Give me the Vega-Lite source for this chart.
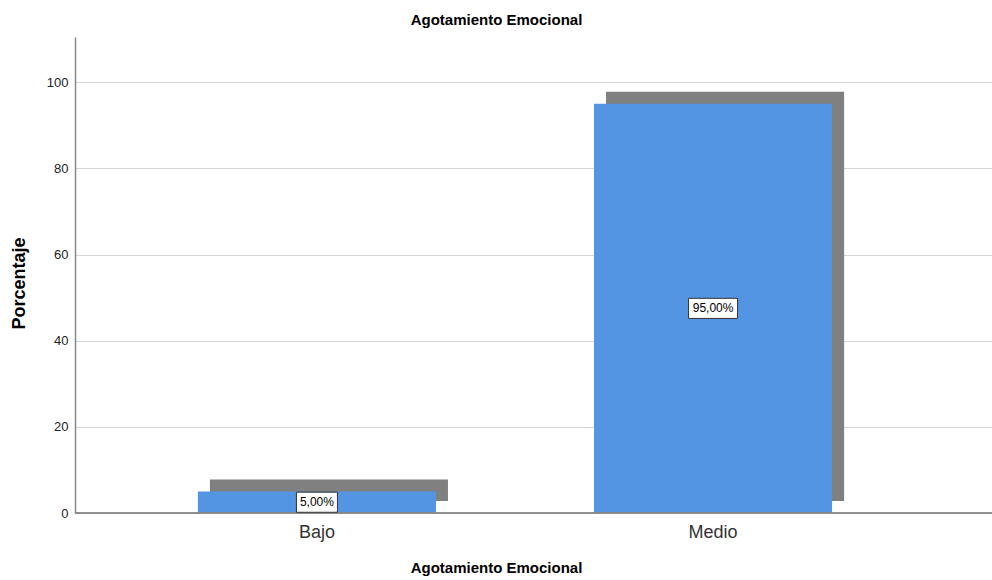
{
  "$schema": "https://vega.github.io/schema/vega-lite/v6.json",
  "width": 917,
  "height": 476,
  "autosize": {"type": "none"},
  "padding": {"left": 75, "top": 37, "right": 0, "bottom": 67},
  "config": {
    "font": "Liberation Sans",
    "view": {"stroke": null},
    "locale": {"number": {"decimal": ",", "thousands": ".", "grouping": [3], "currency": ["", "%"]}}
  },
  "title": {
    "text": "Agotamiento Emocional",
    "fontSize": 15,
    "fontWeight": "bold",
    "color": "#000000",
    "anchor": "middle",
    "dx": -37,
    "offset": -6,
    "baseline": "bottom"
  },
  "data": {"values": [
    {"nivel": "Bajo", "porcentaje": 5},
    {"nivel": "Medio", "porcentaje": 95}
  ]},
  "transform": [{"calculate": "datum.porcentaje / 2", "as": "centro"}],
  "layer": [
    {
      "mark": {"type": "bar", "color": "#808080", "xOffset": -6.5, "x2Offset": -6.5, "yOffset": -12, "y2Offset": -12},
      "encoding": {
        "x": {"field": "nivel", "type": "nominal", "sort": null,
          "scale": {"paddingInner": 0.399, "paddingOuter": 0.357},
          "axis": {"title": "Agotamiento Emocional", "titleFontSize": 15, "titleFontWeight": "bold", "titleColor": "#000000",
            "titleX": 421, "titleY": 54, "titleBaseline": "middle", "titleAlign": "center",
            "labelFontSize": 18, "labelColor": "#333333", "labelPadding": 10, "labelAngle": 0, "labelOffset": -18.5,
            "ticks": false, "domain": false, "grid": false}},
        "y": {"field": "porcentaje", "type": "quantitative",
          "scale": {"domain": [0, 110.5], "nice": false, "zero": true},
          "axis": {"title": "Porcentaje", "titleFontSize": 18, "titleFontWeight": "bold", "titleColor": "#000000",
            "titleX": -56, "titleY": 246, "titleAngle": -90, "titleBaseline": "middle", "titleAlign": "center",
            "values": [0, 20, 40, 60, 80, 100], "format": "d",
            "labelFontSize": 13, "labelColor": "#222222", "labelPadding": 7,
            "ticks": false, "domain": true, "domainColor": "#888888", "domainWidth": 1.5,
            "grid": true, "gridColor": "#d4d4d4", "gridWidth": 1}}
      }
    },
    {
      "mark": {"type": "bar", "color": "#5394E3", "xOffset": -18.5, "x2Offset": -18.5},
      "encoding": {
        "x": {"field": "nivel", "type": "nominal", "sort": null},
        "y": {"field": "porcentaje", "type": "quantitative"}
      }
    },
    {
      "mark": {"type": "rule", "color": "#888888", "strokeWidth": 1.5},
      "encoding": {"y": {"datum": 0, "type": "quantitative"}}
    },
    {
      "mark": {"type": "point", "filled": true, "fill": "#ffffff", "stroke": "#333333", "strokeWidth": 1, "opacity": 1, "xOffset": -18.5},
      "encoding": {
        "x": {"field": "nivel", "type": "nominal", "sort": null},
        "y": {"field": "centro", "type": "quantitative"},
        "shape": {"field": "nivel", "type": "nominal", "legend": null,
          "scale": {"domain": ["Bajo", "Medio"], "range": ["M-1,-0.49H1V0.49H-1Z", "M-1,-0.41H1V0.41H-1Z"]}},
        "size": {"field": "nivel", "type": "nominal", "legend": null,
          "scale": {"domain": ["Bajo", "Medio"], "range": [1681, 2401]}}
      }
    },
    {
      "mark": {"type": "text", "fontSize": 12, "color": "#000000", "baseline": "middle", "align": "center", "xOffset": -18.5},
      "encoding": {
        "x": {"field": "nivel", "type": "nominal", "sort": null},
        "y": {"field": "centro", "type": "quantitative"},
        "text": {"field": "porcentaje", "type": "quantitative", "format": "$.2f"}
      }
    }
  ]
}
